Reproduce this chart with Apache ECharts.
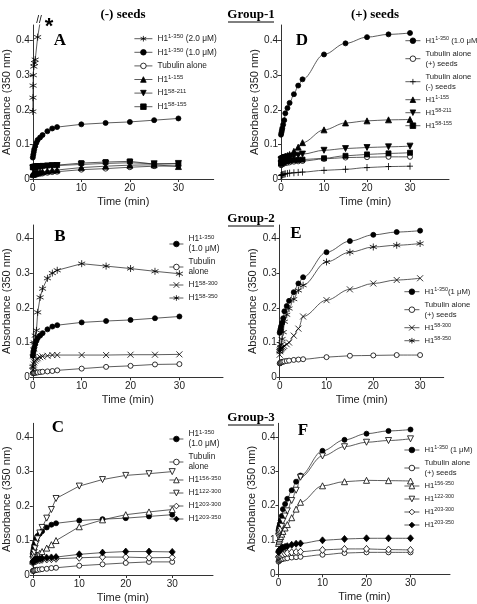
<!DOCTYPE html>
<html><head><meta charset="utf-8">
<script src="https://cdn.jsdelivr.net/npm/echarts@6/dist/echarts.min.js"></script>
<style>html,body{margin:0;padding:0;background:#fff}#c{width:477px;height:604px}</style>
</head><body><div id="c"></div>
<script>
// ---------- DATA ----------
const T = [0, 0.1, 0.2, 0.3, 0.5, 0.75, 1, 1.5, 2, 3, 4, 5, 10, 15, 20, 25, 30];
const xTicks = [0, 10, 20, 30];
const yTicks = [0, 0.1, 0.2, 0.3, 0.4];

// Panel A : (-) seeds, group 1
const tA_star = [0, 0.03, 0.06, 0.1, 0.2, 0.35, 0.5, 1, 1.7];
const A_h1_2uM = [0.195, 0.235, 0.27, 0.3, 0.325, 0.335, 0.345, 0.41, 0.47];
const A_h1_1uM = [0.062,0.07,0.078,0.086,0.095,0.105,0.113,0.12,0.127,0.138,0.146,0.15,0.158,0.162,0.165,0.17,0.175];
const A_tub    = [0.01,0.011,0.011,0.012,0.012,0.013,0.014,0.015,0.016,0.018,0.02,0.021,0.027,0.03,0.034,0.037,0.038];
const A_1155   = [0.014,0.015,0.016,0.016,0.017,0.018,0.019,0.02,0.021,0.023,0.025,0.026,0.033,0.037,0.04,0.041,0.036];
const A_58211  = [0.032,0.033,0.033,0.034,0.034,0.035,0.035,0.036,0.036,0.037,0.038,0.039,0.042,0.045,0.047,0.044,0.045];
const A_58155  = [0.034,0.034,0.035,0.035,0.036,0.036,0.037,0.037,0.038,0.039,0.04,0.04,0.046,0.049,0.051,0.043,0.044];

// Panel D : (+) seeds, group 1
const D_h1     = [0.128,0.134,0.14,0.147,0.157,0.17,0.19,0.205,0.22,0.245,0.27,0.288,0.36,0.392,0.41,0.418,0.422];
const D_tubP   = [0.04,0.041,0.042,0.043,0.044,0.045,0.046,0.047,0.048,0.05,0.051,0.052,0.058,0.062,0.063,0.064,0.064];
const D_tubM   = [0.01,0.011,0.012,0.012,0.013,0.014,0.015,0.016,0.017,0.018,0.019,0.02,0.025,0.028,0.033,0.036,0.037];
const D_1155   = [0.06,0.061,0.061,0.062,0.063,0.064,0.066,0.068,0.071,0.08,0.092,0.105,0.142,0.162,0.168,0.171,0.172];
const D_58211  = [0.055,0.056,0.057,0.058,0.059,0.06,0.062,0.063,0.064,0.066,0.069,0.072,0.083,0.088,0.091,0.093,0.095];
const D_58155  = [0.045,0.046,0.047,0.048,0.049,0.05,0.051,0.052,0.053,0.054,0.055,0.056,0.06,0.067,0.071,0.074,0.076];

// Panel B : (-) seeds, group 2
const B_h1     = [0.062,0.07,0.078,0.086,0.095,0.105,0.113,0.12,0.127,0.138,0.146,0.15,0.158,0.162,0.165,0.17,0.175];
const B_tub    = [0.012,0.012,0.013,0.013,0.013,0.014,0.014,0.015,0.016,0.017,0.018,0.02,0.025,0.03,0.033,0.037,0.038];
const B_58300  = [0.02,0.03,0.037,0.043,0.048,0.052,0.055,0.058,0.06,0.062,0.064,0.064,0.064,0.064,0.065,0.065,0.066];
const B_58350  = [0.03,0.06,0.08,0.1,0.12,0.135,0.187,0.23,0.255,0.285,0.3,0.308,0.327,0.32,0.313,0.305,0.298];

// Panel E : (+) seeds, group 2
const E_h1     = [0.128,0.134,0.14,0.147,0.157,0.17,0.19,0.205,0.22,0.245,0.27,0.288,0.36,0.392,0.41,0.418,0.422];
const E_tub    = [0.04,0.041,0.042,0.043,0.044,0.045,0.046,0.047,0.048,0.05,0.051,0.052,0.058,0.062,0.063,0.064,0.064];
const E_58300  = [0.065,0.075,0.08,0.083,0.085,0.087,0.09,0.095,0.1,0.12,0.14,0.175,0.222,0.253,0.27,0.28,0.285];
const E_58350  = [0.075,0.08,0.085,0.095,0.11,0.13,0.16,0.18,0.198,0.225,0.25,0.265,0.332,0.36,0.375,0.38,0.385];

// Panel C : (-) seeds, group 3
const C_h1     = [0.062,0.07,0.078,0.086,0.095,0.105,0.113,0.12,0.127,0.138,0.146,0.15,0.158,0.162,0.165,0.17,0.175];
const C_tub    = [0.012,0.012,0.013,0.013,0.014,0.015,0.015,0.016,0.017,0.018,0.02,0.021,0.027,0.031,0.035,0.038,0.038];
const C_156350 = [0.04,0.042,0.044,0.046,0.05,0.054,0.058,0.063,0.068,0.078,0.088,0.1,0.14,0.16,0.175,0.183,0.19];
const C_122300 = [0.045,0.05,0.058,0.066,0.078,0.092,0.105,0.122,0.138,0.165,0.19,0.222,0.258,0.277,0.289,0.294,0.3];
const C_203300 = [0.035,0.037,0.038,0.039,0.04,0.041,0.042,0.043,0.044,0.045,0.046,0.047,0.05,0.052,0.052,0.05,0.051];
const C_203350 = [0.038,0.04,0.042,0.043,0.044,0.045,0.046,0.047,0.048,0.05,0.051,0.052,0.06,0.065,0.068,0.068,0.067];

// Panel F : (+) seeds, group 3
const F_h1     = [0.128,0.134,0.14,0.147,0.157,0.17,0.19,0.205,0.22,0.245,0.27,0.288,0.36,0.392,0.41,0.418,0.422];
const F_tub    = [0.037,0.039,0.041,0.042,0.043,0.044,0.045,0.046,0.047,0.049,0.05,0.051,0.057,0.062,0.064,0.064,0.064];
const F_156350 = [0.09,0.095,0.1,0.105,0.11,0.117,0.125,0.135,0.145,0.165,0.19,0.21,0.258,0.27,0.274,0.273,0.272];
const F_122300 = [0.11,0.115,0.12,0.125,0.13,0.14,0.155,0.17,0.185,0.215,0.245,0.283,0.345,0.372,0.385,0.39,0.395];
const F_203300 = [0.05,0.052,0.054,0.055,0.056,0.057,0.058,0.06,0.062,0.064,0.065,0.066,0.071,0.074,0.074,0.072,0.071];
const F_203350 = [0.065,0.068,0.07,0.072,0.074,0.076,0.078,0.08,0.082,0.086,0.089,0.09,0.099,0.103,0.105,0.105,0.105];

// ---------- STYLES ----------
const SYM = {
  fcircle: {symbol:'circle', size:5, fill:'#000'},
  ocircle: {symbol:'circle', size:5, fill:'#fff'},
  ftri:    {symbol:'triangle', size:6, fill:'#000'},
  otri:    {symbol:'triangle', size:6, fill:'#fff'},
  fdtri:   {symbol:'triangle', size:6, fill:'#000', rot:180},
  odtri:   {symbol:'triangle', size:6, fill:'#fff', rot:180},
  square:  {symbol:'rect', size:5, fill:'#000'},
  star:    {symbol:'path://M0,-6L0,6M-5.2,-3L5.2,3M-5.2,3L5.2,-3', size:7, fill:'#000'},
  cross:   {symbol:'path://M-1,-1L1,1M-1,1L1,-1', size:6, fill:'#000'},
  plus:    {symbol:'path://M0,-1.3L0,1.3M-1,0L1,0', size:[6,7], fill:'#000'},
  fdiam:   {symbol:'diamond', size:[6,7], fill:'#000'},
  odiam:   {symbol:'diamond', size:[6,7], fill:'#fff'}
};

const panels = [
  {key:'A', left:30.7, top:25, width:183, height:154, pxX:4.91, pxY:346, smooth:false,
   legLeft:134, legTop:33.7, legGap:3.6, legW:18, legFont:8.3,
   series:[
     ['H1^{1-350} (2.0 μM)', tA_star, A_h1_2uM, 'star'],
     ['H1^{1-350} (1.0 μM)', T, A_h1_1uM, 'fcircle'],
     ['Tubulin alone', T, A_tub, 'ocircle'],
     ['H1^{1-155}', T, A_1155, 'ftri'],
     ['H1^{58-211}', T, A_58211, 'fdtri'],
     ['H1^{58-155}', T, A_58155, 'square']]},
  {key:'D', left:281, top:25, width:168, height:154, pxX:4.3, pxY:346, smooth:true,
   legLeft:405, legTop:35.7, legGap:3, legW:15, legFont:7.7,
   series:[
     ['H1^{1-350} (1.0 μM)', T, D_h1, 'fcircle'],
     ['Tubulin alone\n(+) seeds', T, D_tubP, 'ocircle'],
     ['Tubulin alone\n(-) seeds', T, D_tubM, 'plus'],
     ['H1^{1-155}', T, D_1155, 'ftri'],
     ['H1^{58-211}', T, D_58211, 'fdtri'],
     ['H1^{58-155}', T, D_58155, 'square']]},
  {key:'B', left:32.3, top:225, width:190.7, height:152.3, pxX:4.9, pxY:347.5, smooth:false,
   legLeft:169, legTop:234, legGap:3, legW:14, legFont:8.3,
   series:[
     ['H1^{1-350}\n(1.0 μM)', T, B_h1, 'fcircle'],
     ['Tubulin\nalone', T, B_tub, 'ocircle'],
     ['H1^{58-300}', T, B_58300, 'cross'],
     ['H1^{58-350}', T, B_58350, 'star']]},
  {key:'E', left:279.7, top:225, width:164, height:152.3, pxX:4.68, pxY:347.5, smooth:true,
   legLeft:404, legTop:286.7, legGap:3, legW:15, legFont:7.7,
   series:[
     ['H1^{1-350}(1 μM)', T, E_h1, 'fcircle'],
     ['Tubulin alone\n(+) seeds', T, E_tub, 'ocircle'],
     ['H1^{58-300}', T, E_58300, 'cross'],
     ['H1^{58-350}', T, E_58350, 'star']]},
  {key:'C', left:30.5, top:423.3, width:182.5, height:153.4, pxX:4.707, pxY:348.5, smooth:false,
   legLeft:169, legTop:429, legGap:3, legW:14, legFont:8.3,
   series:[
     ['H1^{1-350}\n(1.0 μM)', T, C_h1, 'fcircle'],
     ['Tubulin\nalone', T, C_tub, 'ocircle'],
     ['H1^{156-350}', T, C_156350, 'otri'],
     ['H1^{122-300}', T, C_122300, 'odtri'],
     ['H1^{203-300}', T, C_203300, 'odiam'],
     ['H1^{203-350}', T, C_203350, 'fdiam']]},
  {key:'F', left:278.5, top:423.3, width:171.5, height:151, pxX:4.4, pxY:343, smooth:true,
   legLeft:404, legTop:445, legGap:3, legW:15, legFont:7.7,
   series:[
     ['H1^{1-350} (1 μM)', T, F_h1, 'fcircle'],
     ['Tubulin alone\n(+) seeds', T, F_tub, 'ocircle'],
     ['H1^{156-350}', T, F_156350, 'otri'],
     ['H1^{122-300}', T, F_122300, 'odtri'],
     ['H1^{203-300}', T, F_203300, 'odiam'],
     ['H1^{203-350}', T, F_203350, 'fdiam']]}
];

const FONT = 'Liberation Sans, Arial, sans-serif';
const SERIF = 'Liberation Serif, Times New Roman, serif';
const LH = 10;

const grid = [], xAxis = [], yAxis = [], series = [], legend = [];
panels.forEach((p, i) => {
  grid.push({left:p.left, top:p.top, width:p.width, height:p.height, containLabel:false});
  xAxis.push({type:'value', gridIndex:i, min:0, max:p.width/p.pxX,
    name:'Time (min)', nameLocation:'middle', nameGap:17,
    nameTextStyle:{fontFamily:FONT, fontSize:11, color:'#222'},
    axisLine:{onZero:false, lineStyle:{color:'#333', width:1}},
    axisTick:{show:true, length:3, customValues:xTicks, lineStyle:{color:'#333'}},
    axisLabel:{customValues:xTicks, fontFamily:FONT, fontSize:10, color:'#222', margin:4},
    splitLine:{show:false}});
  yAxis.push({type:'value', gridIndex:i, min:0, max:p.height/p.pxY,
    name:'Absorbance (350 nm)', nameLocation:'middle', nameGap:17,
    nameTextStyle:{fontFamily:FONT, fontSize:11, color:'#222'},
    axisLine:{show:true, onZero:false, lineStyle:{color:'#333', width:1}},
    axisTick:{show:true, length:3, customValues:yTicks, lineStyle:{color:'#333'}},
    axisLabel:{customValues:yTicks, fontFamily:FONT, fontSize:10, color:'#222', margin:3,
      formatter: v => (v === 0 ? '0' : String(v))},
    splitLine:{show:false}});
  let ly = p.legTop;
  p.series.forEach(s => {
    const [label, ts, vals, sk] = s;
    const st = SYM[sk];
    const name = p.key + ':' + label;
    series.push({type:'line', name, xAxisIndex:i, yAxisIndex:i,
      data: ts.map((t, k) => [t, vals[k]]),
      smooth: p.smooth ? 0.35 : false, smoothMonotone: 'x',
      symbol: st.symbol, symbolSize: st.size, symbolRotate: st.rot || 0,
      showAllSymbol:true, clip:true, animation:false,
      lineStyle:{color:'#333', width:0.8},
      itemStyle:{color:st.fill, borderColor:'#000', borderWidth:0.8},
      emphasis:{disabled:true}});
    const nl = label.split('\n').length;
    legend.push({orient:'vertical', left:p.legLeft, top: ly, padding:0, itemGap:0,
      itemWidth:p.legW, itemHeight:7, data:[name], selectedMode:false,
      symbolRotate:'inherit',
      itemStyle:{borderWidth:0.8, borderColor:'#000'}, lineStyle:{width:0.8, color:'#333'},
      formatter: n => n.slice(2).replace(/\^\{([^}]*)\}/g, '{s|$1}'),
      textStyle:{fontFamily:FONT, fontSize:p.legFont, color:'#222', lineHeight:LH,
        rich:{s:{fontFamily:FONT, fontSize:p.legFont - 2.3, color:'#222', lineHeight:5, verticalAlign:'top'}}}});
    ly += nl * LH + p.legGap;
  });
});

const txt = (text, x, y, font, extra) => Object.assign({type:'text', x, y, silent:true,
  style:{text, font, fill:'#000', align:'center', verticalAlign:'middle'}}, extra || {});
const graphic = [
  txt('(-) seeds', 123, 15, 'bold 13px ' + SERIF),
  txt('(+) seeds', 375, 15, 'bold 13px ' + SERIF),
  txt('Group-1', 251, 15, 'bold 13px ' + SERIF),
  {type:'line', silent:true, shape:{x1:228, y1:22, x2:274, y2:22}, style:{stroke:'#000', lineWidth:1}},
  txt('Group-2', 251, 219, 'bold 13px ' + SERIF),
  {type:'line', silent:true, shape:{x1:228, y1:226, x2:274, y2:226}, style:{stroke:'#000', lineWidth:1}},
  txt('Group-3', 251, 418, 'bold 13px ' + SERIF),
  {type:'line', silent:true, shape:{x1:228, y1:425, x2:274, y2:425}, style:{stroke:'#000', lineWidth:1}},
  txt('A', 60, 41, 'bold 17px ' + SERIF),
  txt('D', 302, 41, 'bold 17px ' + SERIF),
  txt('B', 60, 237, 'bold 17px ' + SERIF),
  txt('E', 296, 234, 'bold 17px ' + SERIF),
  txt('C', 58, 428, 'bold 17px ' + SERIF),
  txt('F', 303, 431, 'bold 17px ' + SERIF),
  txt('//', 39, 20, '10px ' + FONT),
  txt('*', 49, 27, 'bold 22px ' + FONT)
];

const chart = echarts.init(document.getElementById('c'), null, {renderer:'canvas'});
chart.setOption({animation:false, backgroundColor:'#fff', grid, xAxis, yAxis, series, legend, graphic});
</script></body></html>
